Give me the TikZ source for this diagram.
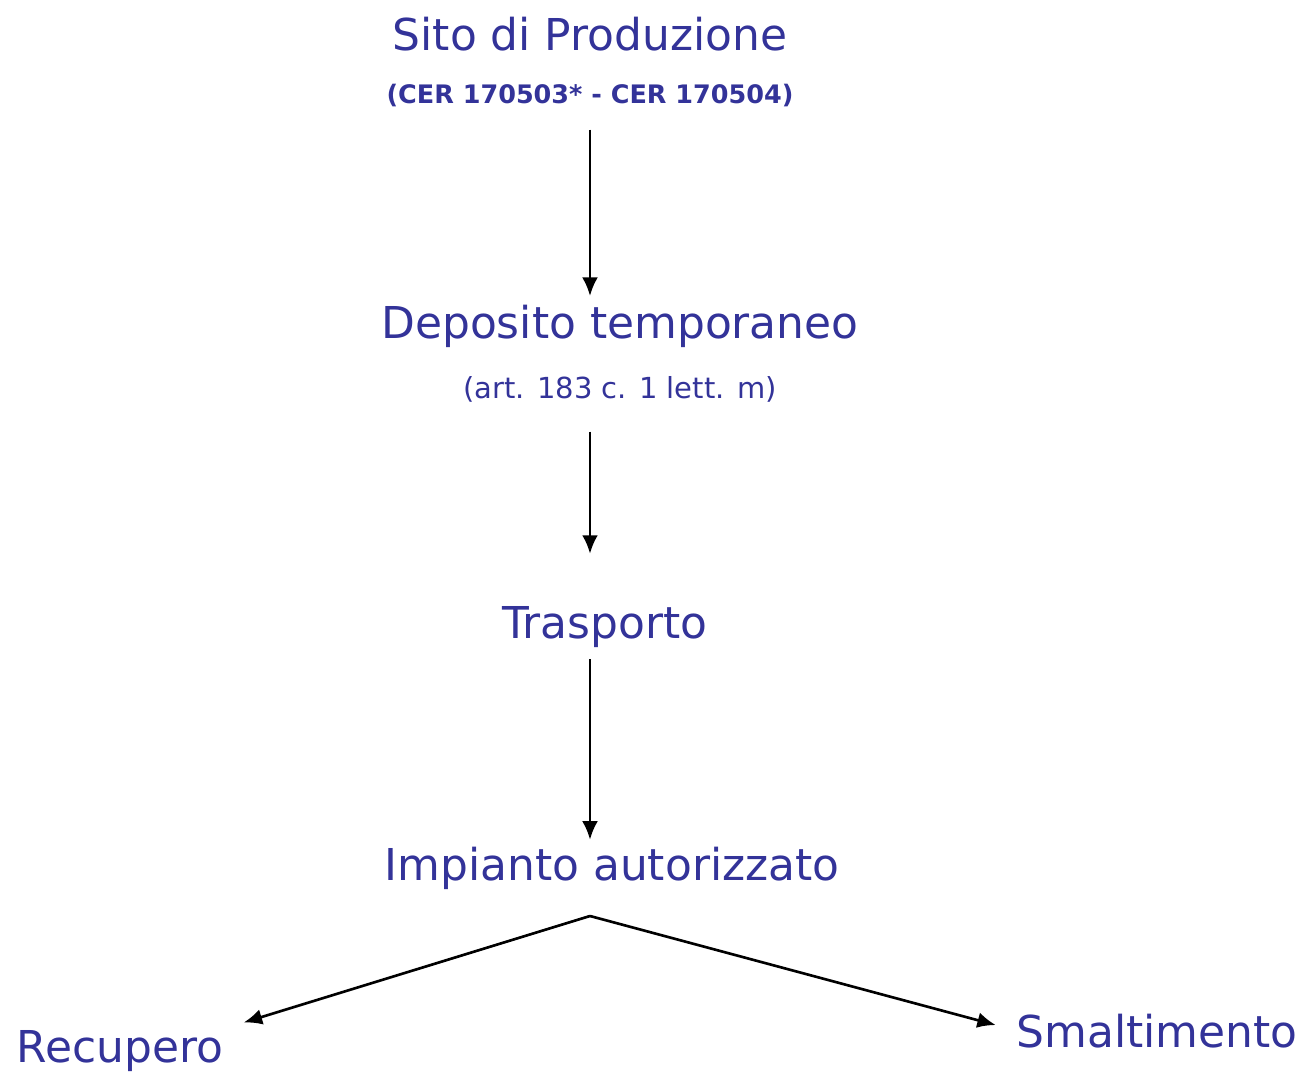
\documentclass[tikz,border=0pt]{standalone}
\usepackage{fontspec}
\setmainfont{DejaVu Sans}
\usetikzlibrary{arrows.meta}
\definecolor{ink}{RGB}{51,51,153}

\begin{document}
\begin{tikzpicture} [
        x=0.02cm, y=-0.02cm,
        stepnode/.style={
            text=ink,
            inner sep=0pt,
            anchor=base,
            text height=18.75pt,
            text depth=0pt,
            font=\fontsize{25}{30}\selectfont
        },
        notenode/.style={
            stepnode,
            font=\fontsize{16.5}{20}\selectfont
        },
        cernode/.style={
            stepnode,
            font=\fontsize{14.5}{17}\selectfont\bfseries
        },
        flow/.style={
            -{Latex[length=10.5pt,width=9pt]},
            line width=1.5pt
        }
    ]

        \useasboundingbox (0,0) rectangle (1303,1075);

        \node[stepnode] (sito)        at (590,51)    {Sito di Produzione};
        \node[cernode]  (cer)         at (590,103)   {(CER 170503* - CER 170504)};
        \node[stepnode] (deposito)    at (620,338)   {Deposito temporaneo};
        \node[notenode] (art)         at (620,398)   {(art. 183 c. 1 lett. m)};
        \node[stepnode] (trasporto)   at (605,638)   {Trasporto};
        \node[stepnode] (impianto)    at (612,880)   {Impianto autorizzato};
        \node[stepnode] (recupero)    at (120,1062)  {Recupero};
        \node[stepnode] (smaltimento) at (1157,1047) {Smaltimento};

        \coordinate (spine) at (590,0);
        \coordinate (split) at (590,916);

        \draw[flow, shorten <=15pt, shorten >=5pt]  (cer.south -| spine)       -- (deposito.north -| spine);
        \draw[flow, shorten <=19pt, shorten >=29pt] (art.south -| spine)       -- (trasporto.north -| spine);
        \draw[flow, shorten <=12pt, shorten >=4pt]  (trasporto.south -| spine) -- (impianto.north -| spine);
        \draw[flow, shorten >=12pt] (split) -- (recupero.north east);
        \draw[flow, shorten >=12pt] (split) -- (smaltimento.west);

    \end{tikzpicture}
\end{document}
